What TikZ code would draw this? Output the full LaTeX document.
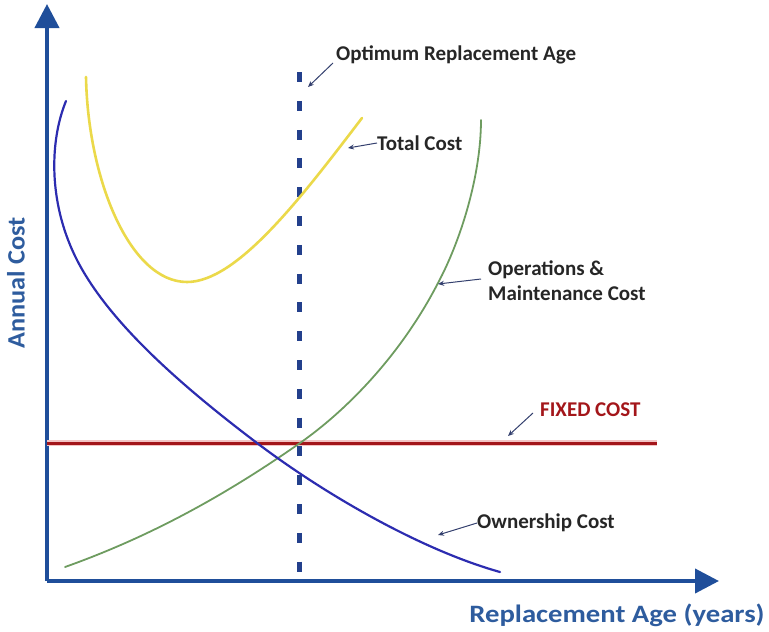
\documentclass[tikz,border=0pt]{standalone}
\usepackage{fontspec}
\usepackage{graphicx}
\setmainfont{Carlito}
\usetikzlibrary{arrows.meta}
\definecolor{axisblue}{HTML}{1F4E9A}
\definecolor{axistext}{HTML}{2E5C9E}
\definecolor{ownblue}{HTML}{2C2CB0}
\definecolor{omgreen}{HTML}{6E9C60}
\definecolor{totyellow}{HTML}{EBD94A}
\definecolor{fixedred}{HTML}{A3161A}
\definecolor{fixedpink}{HTML}{F3C4C4}
\definecolor{dashblue}{HTML}{23408C}
\definecolor{labeltext}{HTML}{262626}
\definecolor{pointer}{HTML}{34406E}
\tikzset{
  axis/.style={axisblue, line width=4pt, -{Triangle[length=24pt,width=24pt]}},
  axislabel/.style={text=axistext, font=\fontsize{25}{28}\selectfont\bfseries, inner sep=0pt},
  curvelabel/.style={text=labeltext, font=\fontsize{21}{25}\selectfont\bfseries, inner sep=0pt, anchor=west, align=left},
  pointerarrow/.style={pointer, line width=1pt, -{Stealth[length=6pt,width=5pt]}},
  curve/.style={line width=2.2pt, line cap=round},
}
\begin{document}
\begin{tikzpicture}[x=1pt,y=-1pt]
\useasboundingbox (0,0) rectangle (769,632);
% axes
\coordinate (O) at (47,581);
\coordinate (ytip) at (47,4);
\coordinate (xtip) at (719,581);
\draw[axis] (O) -- (ytip);
\draw[axis] (O) -- (xtip);
\node[axislabel, rotate=90] (ylab) at (16,283) {\scalebox{1.05}[1]{Annual Cost}};
\node[axislabel] (xlab) at (617,615) {\scalebox{1.148}[1]{Replacement Age (years)}};
% fixed cost
\coordinate (fa) at (47,443);
\coordinate (fb) at (657,443);
\draw[fixedpink, line width=6pt] (fa) -- (fb);
\draw[fixedred, line width=3pt] (fa) -- (fb);
% optimum line
\coordinate (da) at (299,72);
\coordinate (db) at (299,573);
\draw[dashblue, line width=5pt, dash pattern=on 10pt off 18.8pt] (da) -- (db);
% O&M cost
\draw[curve, omgreen, line width=1.8pt] (65,567) .. controls (145,538.5) and (220,499) .. (300,443)
  .. controls (346,410.8) and (400.6,355.6) .. (438,283)
  .. controls (461,240) and (481,175) .. (481,120);
% ownership cost
\draw[curve, ownblue] (66,101) .. controls (50,140) and (48,200) .. (75,256)
  .. controls (105,318) and (175.6,381.4) .. (257,443)
  .. controls (323.6,493.4) and (420,549.6) .. (500,572);
% total cost
\draw[curve, totyellow, line width=2.6pt] (86,77) .. controls (88,180) and (130,282) .. (187,282)
  .. controls (237,282) and (301,198) .. (362,118);
% labels
\node[curvelabel] (optlab) at (336,55) {Optimum Replacement Age};
\coordinate (optpt) at (308,87);
\draw[pointerarrow] (333,63) -- (optpt);
\node[curvelabel] (totlab) at (377,143) {Total Cost};
\coordinate (totpt) at (348,148);
\draw[pointerarrow] (totlab.west) -- (totpt);
\node[curvelabel] (omlab) at (488,281) {Operations \&\\Maintenance Cost};
\coordinate (ompt) at (438,284);
\draw[pointerarrow] (481,279) -- (ompt);
\node[curvelabel, text=fixedred] (fixlab) at (540,410) {FIXED COST};
\coordinate (fixpt) at (508,436);
\draw[pointerarrow] (533,413) -- (fixpt);
\node[curvelabel] (ownlab) at (477,523) {Ownership Cost};
\coordinate (ownpt) at (438,535);
\draw[pointerarrow] (ownlab.west) -- (ownpt);
\end{tikzpicture}
\end{document}
